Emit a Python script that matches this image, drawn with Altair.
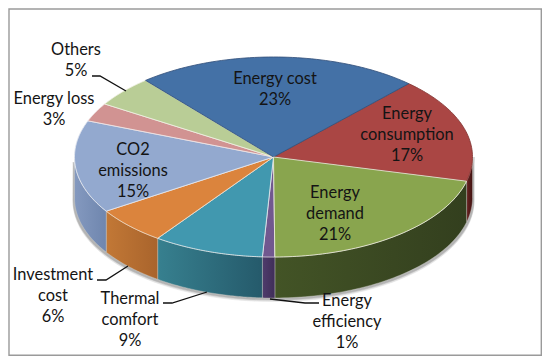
import math
import altair as alt

# ---- chart values ----
names = ["Energy cost", "Energy consumption", "Energy demand", "Energy efficiency",
         "Thermal comfort", "Investment cost", "CO2 emissions", "Energy loss", "Others"]
shares = [23, 17, 21, 1, 9, 6, 15, 3, 5]
label_lines = ["Energy cost", "Energy\nconsumption", "Energy\ndemand", "Energy\nefficiency",
               "Thermal\ncomfort", "Investment\ncost", "CO2\nemissions", "Energy loss", "Others"]

# ---- styles ----
top_colors = ["#4471A6", "#AA4644", "#89A54E", "#71588F", "#4198AF", "#DB843D", "#93A9CF", "#D19392", "#B9CD96"]
edge_colors = ["#35527c", "#843634", "#e9e8d8", "#e2dcea", "#dfe8ea", "#f0dcc8", "#e4e8f0", "#f0e4e4", "#eef0e0"]
wall_colors = {
    "Energy consumption": ("#6a2422", "#3f1211"),
    "Energy demand": ("#435426", "#333f1e"),
    "Energy efficiency": ("#4f3c6c", "#3f2e58"),
    "Thermal comfort": ("#37808f", "#255a6b"),
    "Investment cost": ("#c27836", "#a9642c"),
    "CO2 emissions": ("#6f86ae", "#8499bf"),
}
draw_order = ["Energy efficiency", "Thermal comfort", "Investment cost", "CO2 emissions",
              "Energy loss", "Others", "Energy consumption", "Energy cost", "Energy demand"]

# ---- layout (pixels of the picture) ----
CX, CY, RX, RY, DEPTH = 273.5, 157, 199, 100, 41
START = 130.0
label_anchor = {
    "Energy cost": (275, 79), "Energy consumption": (407, 114), "Energy demand": (335, 193),
    "Energy efficiency": (347, 301), "Thermal comfort": (130, 299), "Investment cost": (53, 275),
    "CO2 emissions": (133, 150), "Energy loss": (54, 99), "Others": (76, 50),
}
leaders = [
    [(92, 76), (100, 76), (126, 91)],
    [(97, 280), (106, 280), (128, 266)],
    [(163, 303), (172, 303), (207, 292)],
    [(319, 303), (305, 303), (270, 299)],
]
FRAME = [(9, 9), (541.3, 9), (541.3, 355.3), (9, 355.3), (9, 9)]


def pt(t, dy=0.0, dx=0.0):
    r = math.radians(t)
    return [CX + dx + RX * math.cos(r), CY + dy - RY * math.sin(r)]


def arc(a, b, dy=0.0, dx=0.0, n=60):
    return [pt(a + (b - a) * i / n, dy, dx) for i in range(n + 1)]


def feature(name, coords, kind="Polygon"):
    geom = [coords] if kind == "Polygon" else coords
    return {"type": "Feature", "properties": {"name": name},
            "geometry": {"type": kind, "coordinates": geom}}


# slice angles from the values, clockwise from START
edges = {}
a = START
for n, s in zip(names, shares):
    edges[n] = (a, a - s * 3.6)
    a -= s * 3.6

projection = alt.Projection(type="identity", scale=1, translate=[-8, -8])


def shape(features, **mark):
    return alt.Chart(alt.InlineData(values=features)).mark_geoshape(**mark).project(**projection.to_dict())


layers = []

# frame
layers.append(shape([feature("frame", FRAME)], fill="#ffffff", stroke="#9a9a9a", strokeWidth=1.4))

# ground shadow
for off, col in [(3.5, "#e2e2e2"), (2.0, "#b4b4b4")]:
    ring = arc(-180, 0, DEPTH + off, 0) + arc(0, -180, 0, 0)
    side = [[p[0] + (1.5 if p[0] > CX else -1.5), p[1]] for p in ring]
    layers.append(shape([feature("shadow", side)], fill=col, stroke=col, strokeWidth=0.5))

# side walls: the front half only
for n, (a0, a1) in edges.items():
    if n not in wall_colors:
        continue
    if n == "Energy consumption":
        lo_a, hi_a = a1, 0
    else:
        lo_a, hi_a = max(a1, -180), min(a0, 0)
    poly = arc(hi_a, lo_a) + arc(lo_a, hi_a, DEPTH)
    poly.append(poly[0])
    left, right = wall_colors[n]
    grad = alt.LinearGradient(gradient="linear", x1=0, x2=1, y1=0, y2=0,
                              stops=[alt.GradientStop(color=left if n != "CO2 emissions" else right, offset=0),
                                     alt.GradientStop(color=right if n != "CO2 emissions" else left, offset=1)])
    layers.append(shape([feature(n, poly)], fill=grad, stroke="#d8d8d0", strokeWidth=0.6, strokeOpacity=0.6))

# top face
tops = []
for n in draw_order:
    a0, a1 = edges[n]
    poly = [[CX, CY]] + arc(a0, a1)
    poly.append([CX, CY])
    tops.append(feature(n, poly))
top = (alt.Chart(alt.InlineData(values=tops))
       .mark_geoshape(strokeWidth=1, strokeOpacity=0.85)
       .encode(fill=alt.Fill("properties.name:N", legend=None,
                             scale=alt.Scale(domain=names, range=top_colors)),
               stroke=alt.Stroke("properties.name:N", legend=None,
                                 scale=alt.Scale(domain=names, range=edge_colors)))
       .project(**projection.to_dict()))
layers.append(top)

# leader lines
layers.append(shape([feature("leader", [list(map(float, p)) for p in l], "LineString") for l in leaders],
                    filled=False, fill="transparent", stroke="#111111", strokeWidth=1.3))

# labels
rows = []
for n, l, s in zip(names, label_lines, shares):
    x, y = label_anchor[n]
    rows.append({"text": f"{l}\n{s}%", "lon": x, "lat": y})
text = (alt.Chart(alt.InlineData(values=rows))
        .mark_text(font="Lato", fontSize=16.4, lineBreak="\n", lineHeight=21, align="center",
                   baseline="middle", color="#141414")
        .encode(longitude="lon:Q", latitude="lat:Q", text="text:N")
        .project(**projection.to_dict()))
layers.append(text)

chart = (alt.layer(*layers)
         .properties(width=534, height=348, padding=0, autosize="none")
         .configure_view(stroke=None))
chart.save("out.html", embed_options={"renderer": "svg", "actions": False})
